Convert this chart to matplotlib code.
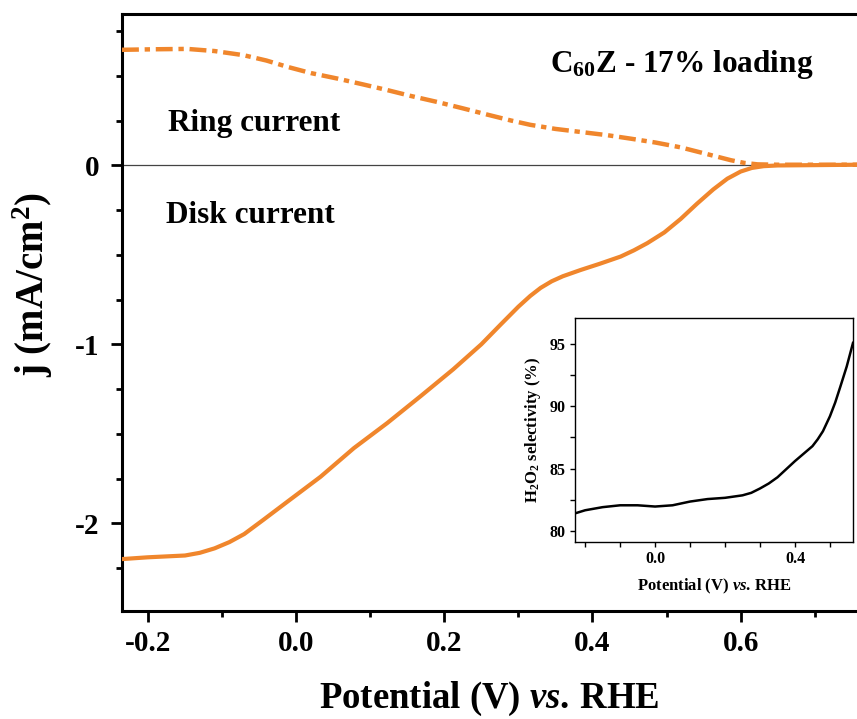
import matplotlib
matplotlib.use("Agg")
import matplotlib.pyplot as plt
from matplotlib.ticker import MultipleLocator, FormatStrFormatter

plt.rcParams['font.family'] = ['Liberation Serif', 'DejaVu Serif']
plt.rcParams['font.weight'] = 'bold'
plt.rcParams['axes.unicode_minus'] = False
plt.rcParams['mathtext.fontset'] = 'custom'
plt.rcParams['mathtext.rm'] = 'Liberation Serif:bold'
plt.rcParams['mathtext.bf'] = 'Liberation Serif:bold'
plt.rcParams['mathtext.it'] = 'Liberation Serif:bold:italic'

ORANGE = '#F0862C'

# Disk current (solid)
disk_v = [-0.235, -0.20, -0.15, -0.13, -0.11, -0.09, -0.07, -0.044, -0.012, 0.033, 0.078, 0.123,
          0.168, 0.212, 0.25, 0.276, 0.30, 0.316, 0.33, 0.345, 0.36, 0.384, 0.41, 0.438, 0.456, 0.474,
          0.497, 0.519, 0.541, 0.563, 0.582, 0.60, 0.615, 0.631, 0.65, 0.68, 0.757]
disk_j = [-2.20, -2.19, -2.18, -2.165, -2.14, -2.105, -2.06, -1.98, -1.88, -1.74, -1.58, -1.44,
          -1.29, -1.14, -1.00, -0.89, -0.79, -0.73, -0.685, -0.648, -0.62, -0.585, -0.55, -0.51, -0.475, -0.435,
          -0.375, -0.30, -0.215, -0.135, -0.075, -0.035, -0.015, -0.005, -0.001, 0.0, 0.003]

# Ring current (dash-dot)
ring_v = [-0.235, -0.19, -0.147, -0.11, -0.071, -0.04, -0.012, 0.02, 0.056, 0.09, 0.123, 0.155,
          0.19, 0.225, 0.258, 0.29, 0.316, 0.35, 0.384, 0.42, 0.451, 0.485, 0.519, 0.555,
          0.587, 0.605, 0.623, 0.65, 0.68, 0.757]
ring_j = [0.645, 0.648, 0.650, 0.638, 0.615, 0.585, 0.55, 0.515, 0.484, 0.452, 0.42, 0.387,
          0.354, 0.318, 0.283, 0.25, 0.226, 0.203, 0.186, 0.168, 0.149, 0.127, 0.10, 0.062,
          0.028, 0.013, 0.005, 0.003, 0.003, 0.003]

# Inset: H2O2 selectivity
sel_v = [-0.229, -0.2, -0.15, -0.1, -0.05, 0.0, 0.05, 0.1, 0.15, 0.2, 0.25, 0.275, 0.3, 0.325,
         0.35, 0.375, 0.4, 0.425, 0.45, 0.465, 0.48, 0.5, 0.515, 0.53, 0.548, 0.566]
sel_p = [81.4, 81.65, 81.9, 82.05, 82.05, 81.95, 82.05, 82.35, 82.55, 82.65, 82.85, 83.05, 83.4, 83.8,
         84.3, 84.95, 85.6, 86.2, 86.8, 87.35, 88.0, 89.2, 90.3, 91.6, 93.2, 95.1]

fig = plt.figure(figsize=(8.57, 7.19), dpi=100)
ax = fig.add_axes([122/857, 1-611/719, 1-122/857, (611-14)/719])

ax.axhline(0, color='#444444', lw=0.9, zorder=1)
ax.plot(disk_v, disk_j, color=ORANGE, lw=3.0, solid_capstyle='round', zorder=3)
ln, = ax.plot(ring_v, ring_j, color=ORANGE, lw=3.2, zorder=3)
ln.set_dashes((3.8, 1.3, 1.2, 1.3))

ax.set_xlim(-0.235, 0.757)
ax.set_ylim(-2.49, 0.845)
ax.xaxis.set_major_locator(MultipleLocator(0.2))
ax.xaxis.set_minor_locator(MultipleLocator(0.1))
ax.yaxis.set_major_locator(MultipleLocator(1))
ax.yaxis.set_minor_locator(MultipleLocator(0.25))
ax.xaxis.set_major_formatter(FormatStrFormatter('%.1f'))
ax.yaxis.set_major_formatter(FormatStrFormatter('%d'))
ax.tick_params(which='major', direction='out', length=8, width=2, labelsize=21, pad=6)
ax.tick_params(which='minor', direction='out', length=4, width=2)
ax.tick_params(axis='y', which='major', pad=8)
ax.spines['right'].set_visible(False)
for s in ['left', 'top', 'bottom']:
    ax.spines[s].set_linewidth(2.2)
for lab in ax.get_xticklabels() + ax.get_yticklabels():
    lab.set_fontweight('bold')

ax.set_xlabel(r'Potential (V) $\mathit{vs.}\,$RHE', fontsize=26.5, fontweight='bold', va='baseline')
ax.set_ylabel(r'j (mA/cm$^2$)', fontsize=28, fontweight='bold')
ax.xaxis.set_label_coords(0.5, (611-708)/597)
ax.yaxis.set_label_coords((55-122)/735, 0.546)

ax.text(0.0626, 0.817, 'Ring current', transform=ax.transAxes, fontsize=22.5,
        fontweight='bold', va='center', ha='left')
ax.text(0.0600, 0.663, 'Disk current', transform=ax.transAxes, fontsize=22.5,
        fontweight='bold', va='center', ha='left')
ax.text(0.762, 0.915, r'C$_{60}$Z - 17% loading', transform=ax.transAxes, fontsize=22.5,
        fontweight='bold', va='center', ha='center')

# Inset
ins = fig.add_axes([575/857, 1-542/719, (853-575)/857, (542-318)/719])
ins.plot(sel_v, sel_p, color='black', lw=1.8)
ins.set_xlim(-0.229, 0.566)
ins.set_ylim(79.1, 97.1)
ins.xaxis.set_major_locator(MultipleLocator(0.4))
ins.xaxis.set_minor_locator(MultipleLocator(0.1))
ins.yaxis.set_major_locator(MultipleLocator(5))
ins.yaxis.set_minor_locator(MultipleLocator(2.5))
ins.xaxis.set_major_formatter(FormatStrFormatter('%.1f'))
ins.tick_params(which='both', direction='out', length=3.5, width=1.0, labelsize=11.5, pad=3)
for s in ins.spines.values():
    s.set_linewidth(1.0)
for lab in ins.get_xticklabels() + ins.get_yticklabels():
    lab.set_fontweight('bold')
ins.set_xlabel(r'Potential (V) $\mathit{vs.}\,$RHE', fontsize=12, fontweight='bold', labelpad=7)
ins.set_ylabel(r'H$_2$O$_2$ selectivity (%)', fontsize=12, fontweight='bold', labelpad=5)

fig.savefig('out.png', dpi=100)
